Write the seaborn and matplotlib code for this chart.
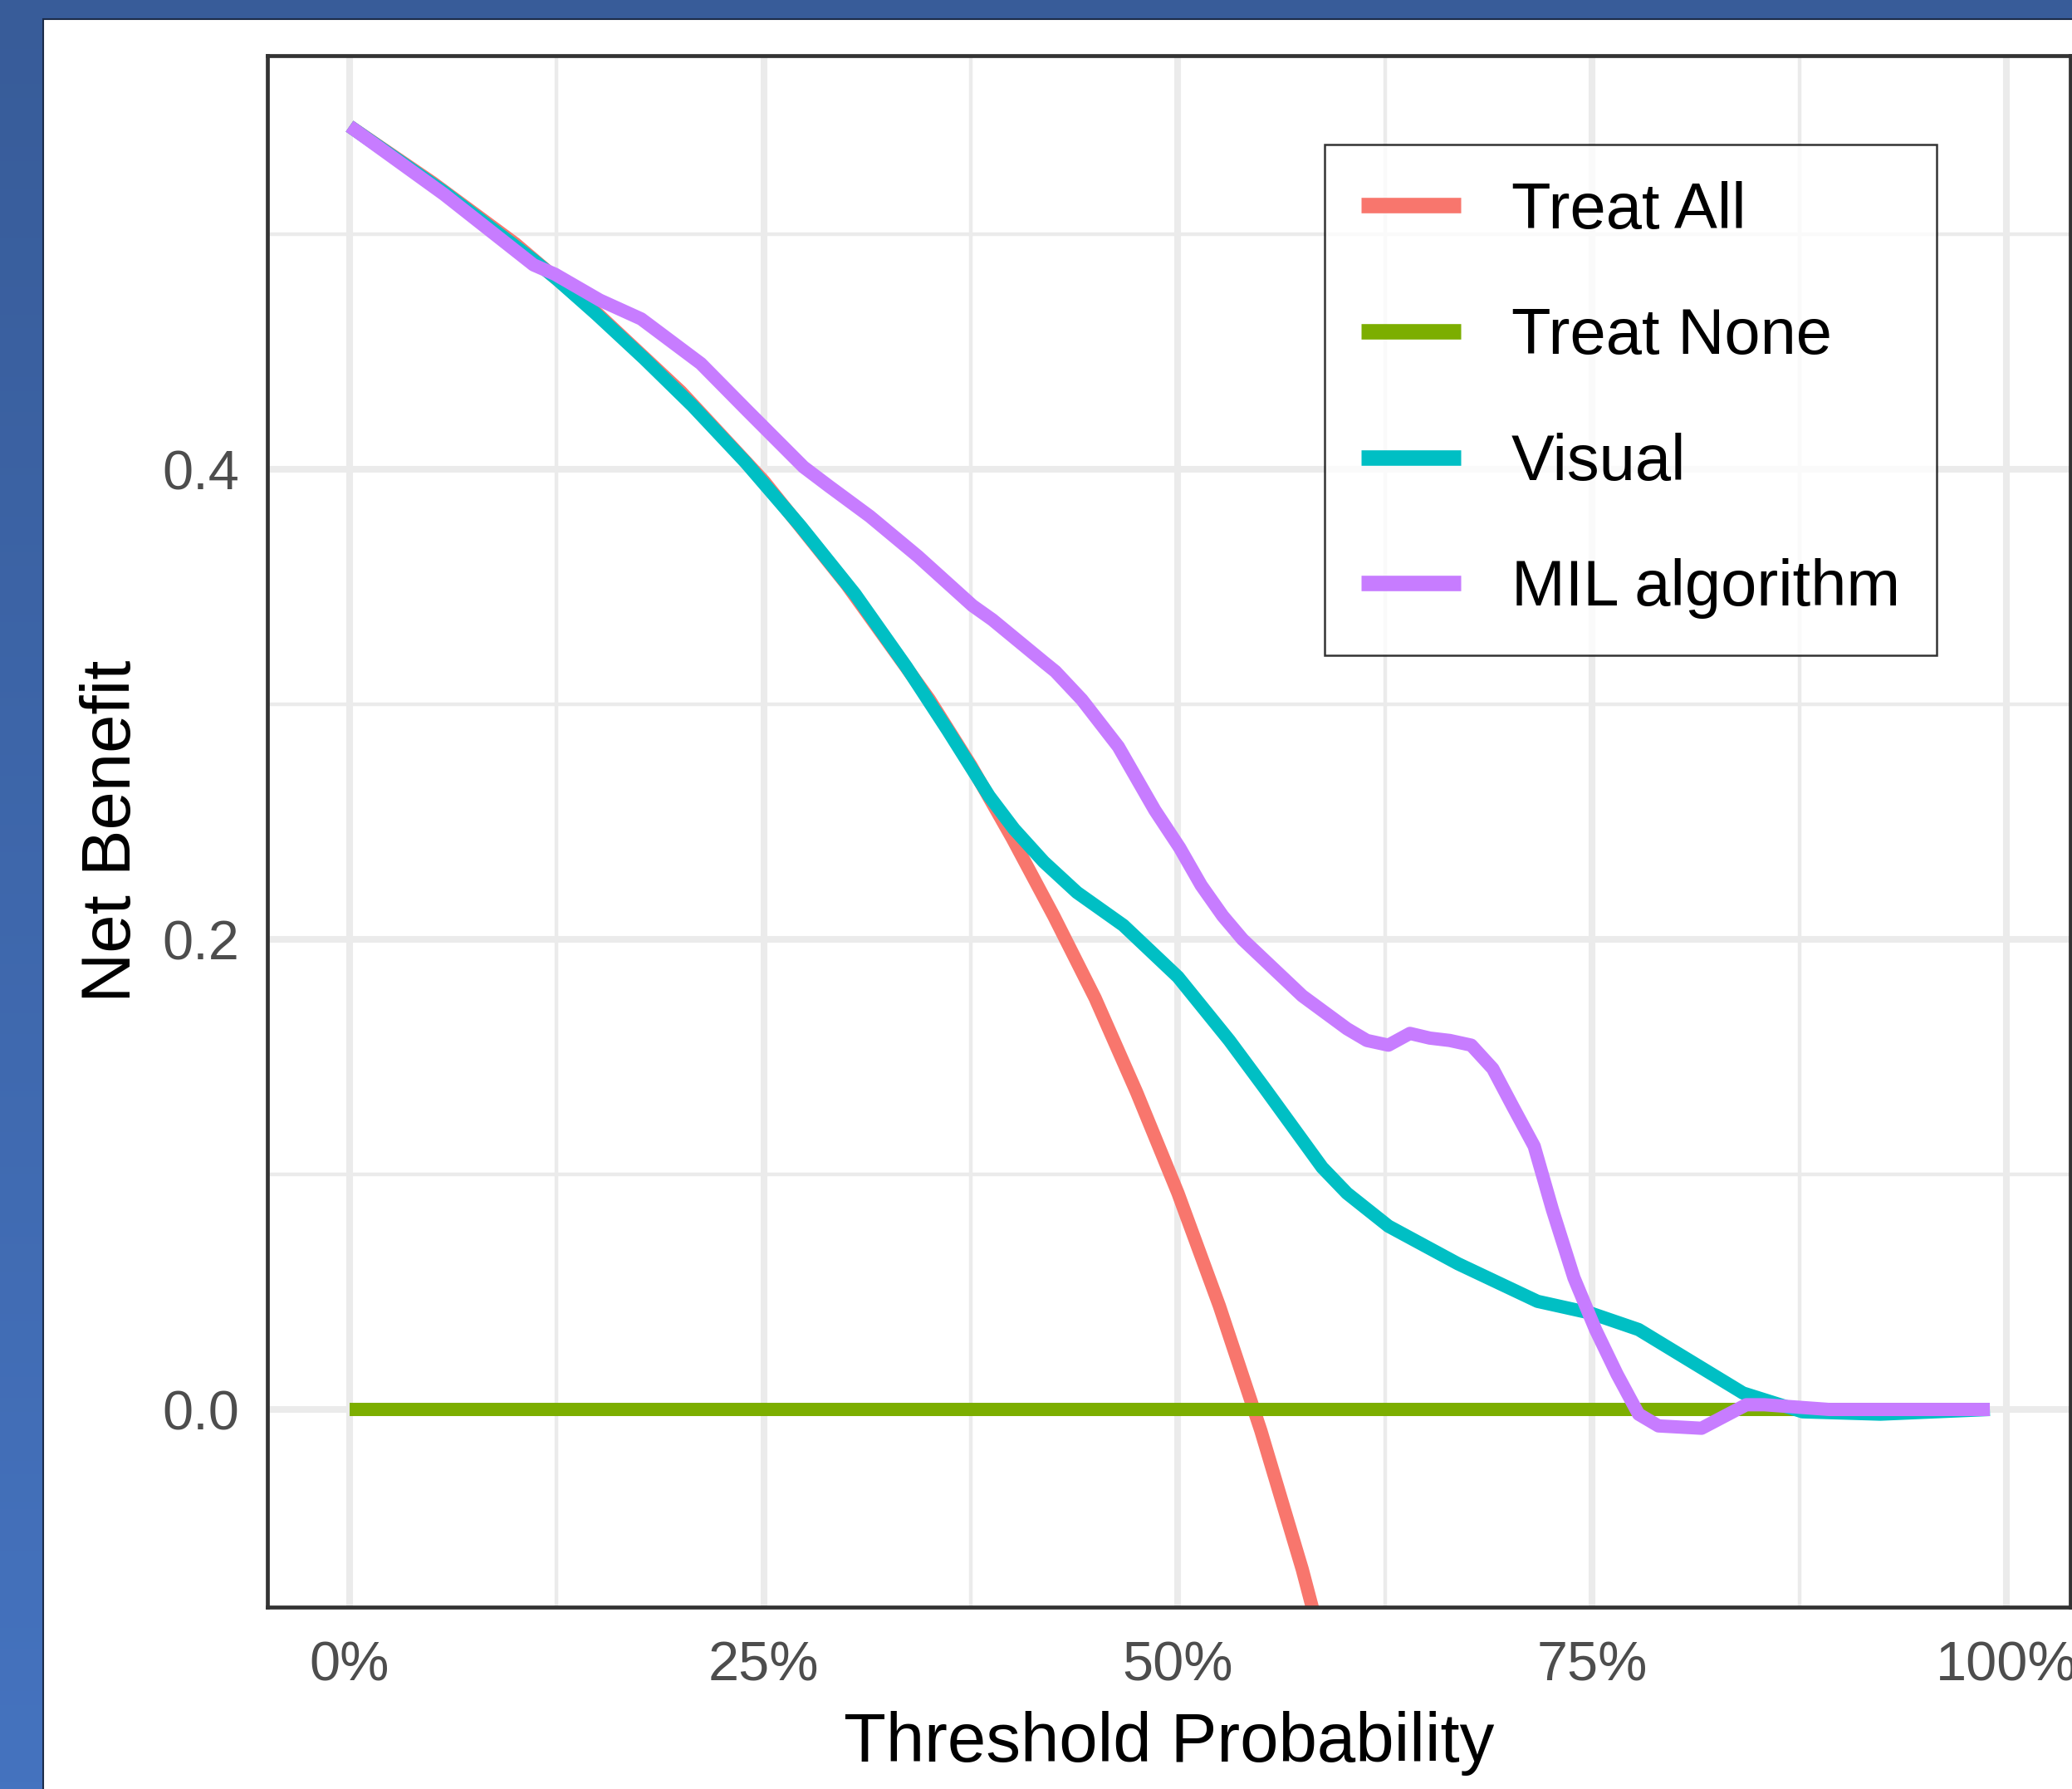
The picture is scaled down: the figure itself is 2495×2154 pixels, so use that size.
import numpy as np
import pandas as pd
import matplotlib
matplotlib.use("Agg")
import matplotlib.pyplot as plt
from matplotlib.colors import LinearSegmentedColormap
from matplotlib.patches import Rectangle
import seaborn as sns

# --- values ---
t_all = [0, 0.05, 0.10, 0.15, 0.20, 0.25, 0.30, 0.35, 0.375, 0.40, 0.425,
         0.45, 0.475, 0.50, 0.525, 0.55, 0.575, 0.60]
nb_all = [0.546, 0.522, 0.496, 0.466, 0.433, 0.395, 0.351, 0.302, 0.274, 0.243,
          0.210, 0.175, 0.135, 0.092, 0.044, -0.009, -0.068, -0.135]

t_none = [0, 0.99]
nb_none = [0, 0]

t_visual = [0, 0.057, 0.111, 0.125, 0.149, 0.178, 0.207, 0.239, 0.272, 0.305,
            0.336, 0.361, 0.386, 0.401, 0.419, 0.439, 0.467, 0.500, 0.531, 0.552,
            0.587, 0.602, 0.627, 0.669, 0.717, 0.749, 0.778, 0.806, 0.841,
            0.877, 0.924, 0.99]
nb_visual = [0.546, 0.518, 0.489, 0.481, 0.466, 0.447, 0.427, 0.403, 0.376, 0.347,
             0.316, 0.289, 0.261, 0.247, 0.233, 0.220, 0.206, 0.184, 0.157, 0.137,
             0.103, 0.092, 0.078, 0.062, 0.046, 0.041, 0.034, 0.022, 0.007,
             -0.001, -0.002, 0.0]

t_mil = [0, 0.057, 0.111, 0.124, 0.151, 0.176, 0.212, 0.240, 0.274, 0.289,
         0.314, 0.343, 0.376, 0.388, 0.419, 0.426, 0.442, 0.464, 0.486, 0.501,
         0.514, 0.527, 0.539, 0.575, 0.602, 0.614, 0.627, 0.640, 0.652, 0.664,
         0.677, 0.690, 0.702, 0.715, 0.726, 0.739, 0.752, 0.765, 0.778, 0.790,
         0.816, 0.843, 0.854, 0.893, 0.99]
nb_mil = [0.546, 0.517, 0.487, 0.483, 0.472, 0.464, 0.445, 0.425, 0.401, 0.393,
          0.380, 0.363, 0.342, 0.336, 0.318, 0.314, 0.302, 0.282, 0.255, 0.239,
          0.223, 0.210, 0.200, 0.176, 0.162, 0.157, 0.155, 0.160, 0.158, 0.157,
          0.155, 0.145, 0.129, 0.112, 0.085, 0.056, 0.034, 0.015, -0.002, -0.007,
          -0.008, 0.002, 0.002, 0.0, 0.0]

labels = ["Treat All", "Treat None", "Visual", "MIL algorithm"]
colors = ["#F8766D", "#7CAE00", "#00BFC4", "#C77CFF"]
x_ticks = [0, 0.25, 0.5, 0.75, 1.0]
x_ticklabels = ["0%", "25%", "50%", "75%", "100%"]
y_ticks = [0.0, 0.2, 0.4]

df = pd.concat([
    pd.DataFrame({"threshold": t_all, "net_benefit": nb_all, "model": labels[0]}),
    pd.DataFrame({"threshold": t_none, "net_benefit": nb_none, "model": labels[1]}),
    pd.DataFrame({"threshold": t_visual, "net_benefit": nb_visual, "model": labels[2]}),
    pd.DataFrame({"threshold": t_mil, "net_benefit": nb_mil, "model": labels[3]}),
], ignore_index=True)

sns.set_theme(style="white")
plt.rcParams['font.family'] = ['Liberation Sans', 'DejaVu Sans']
plt.rcParams['lines.solid_capstyle'] = 'butt'
plt.rcParams['lines.solid_joinstyle'] = 'round'

fig = plt.figure(figsize=(24.95, 21.54), dpi=100)

# slide-like blue frame behind the white panel
bg = fig.add_axes([0, 0, 1, 1], zorder=-10)
grad = np.linspace(0, 1, 256).reshape(-1, 1)
cmap = LinearSegmentedColormap.from_list("frame", ["#385C99", "#4573BF"])
bg.imshow(grad, aspect='auto', extent=[0, 1, 0, 1], cmap=cmap, origin='upper')
bg.add_patch(Rectangle((52 / 2495, -0.02), 1.0, 1 - 23 / 2154 + 0.02,
                       facecolor='white', edgecolor='#1C2C48', lw=1.5))
bg.set_xlim(0, 1)
bg.set_ylim(0, 1)
bg.axis('off')

ax = fig.add_axes([0.12906, 0.10167, 0.87014, 0.8672])
ax.set_facecolor('white')

sns.lineplot(data=df, x="threshold", y="net_benefit", hue="model",
             hue_order=labels, palette=colors, estimator=None, sort=False,
             linewidth=11.5, ax=ax)

ax.set_xlim(-0.0496, 1.0386)
ax.set_ylim(-0.0841, 0.576)
ax.set_xticks(x_ticks)
ax.set_xticklabels(x_ticklabels)
ax.set_yticks(y_ticks)
ax.set_yticklabels(["0.0", "0.2", "0.4"])
ax.set_xticks([0.125, 0.375, 0.625, 0.875], minor=True)
ax.set_yticks([0.1, 0.3, 0.5], minor=True)
ax.grid(which='major', color='#EBEBEB', lw=5.8)
ax.grid(which='minor', color='#EBEBEB', lw=3.2)
ax.set_axisbelow(True)

ax.tick_params(axis='both', which='major', direction='out', length=16, width=6,
               color='#333333', labelsize=48, labelcolor='#4D4D4D', pad=8)
ax.tick_params(axis='x', which='major', pad=13)
ax.tick_params(axis='both', which='minor', length=0)
for sp in ax.spines.values():
    sp.set_visible(True)
    sp.set_color('#333333')
    sp.set_linewidth(3.4)

ax.set_xlabel("Threshold Probability", fontsize=60, color='black', labelpad=16)
ax.set_ylabel("Net Benefit", fontsize=60, color='black', labelpad=16)

handles, _ = ax.get_legend_handles_labels()
leg = ax.legend(handles, labels, loc='upper left', bbox_to_anchor=(0.5864, 0.9427),
                borderaxespad=0, fontsize=56, frameon=True, fancybox=False,
                edgecolor='black', labelcolor='black', handlelength=1.55,
                handletextpad=0.78, labelspacing=1.01, borderpad=0.56)
leg.get_frame().set_linewidth(1.8)
for h in leg.get_lines():
    h.set_linewidth(13.4)

fig.savefig("out.png", dpi=100)
